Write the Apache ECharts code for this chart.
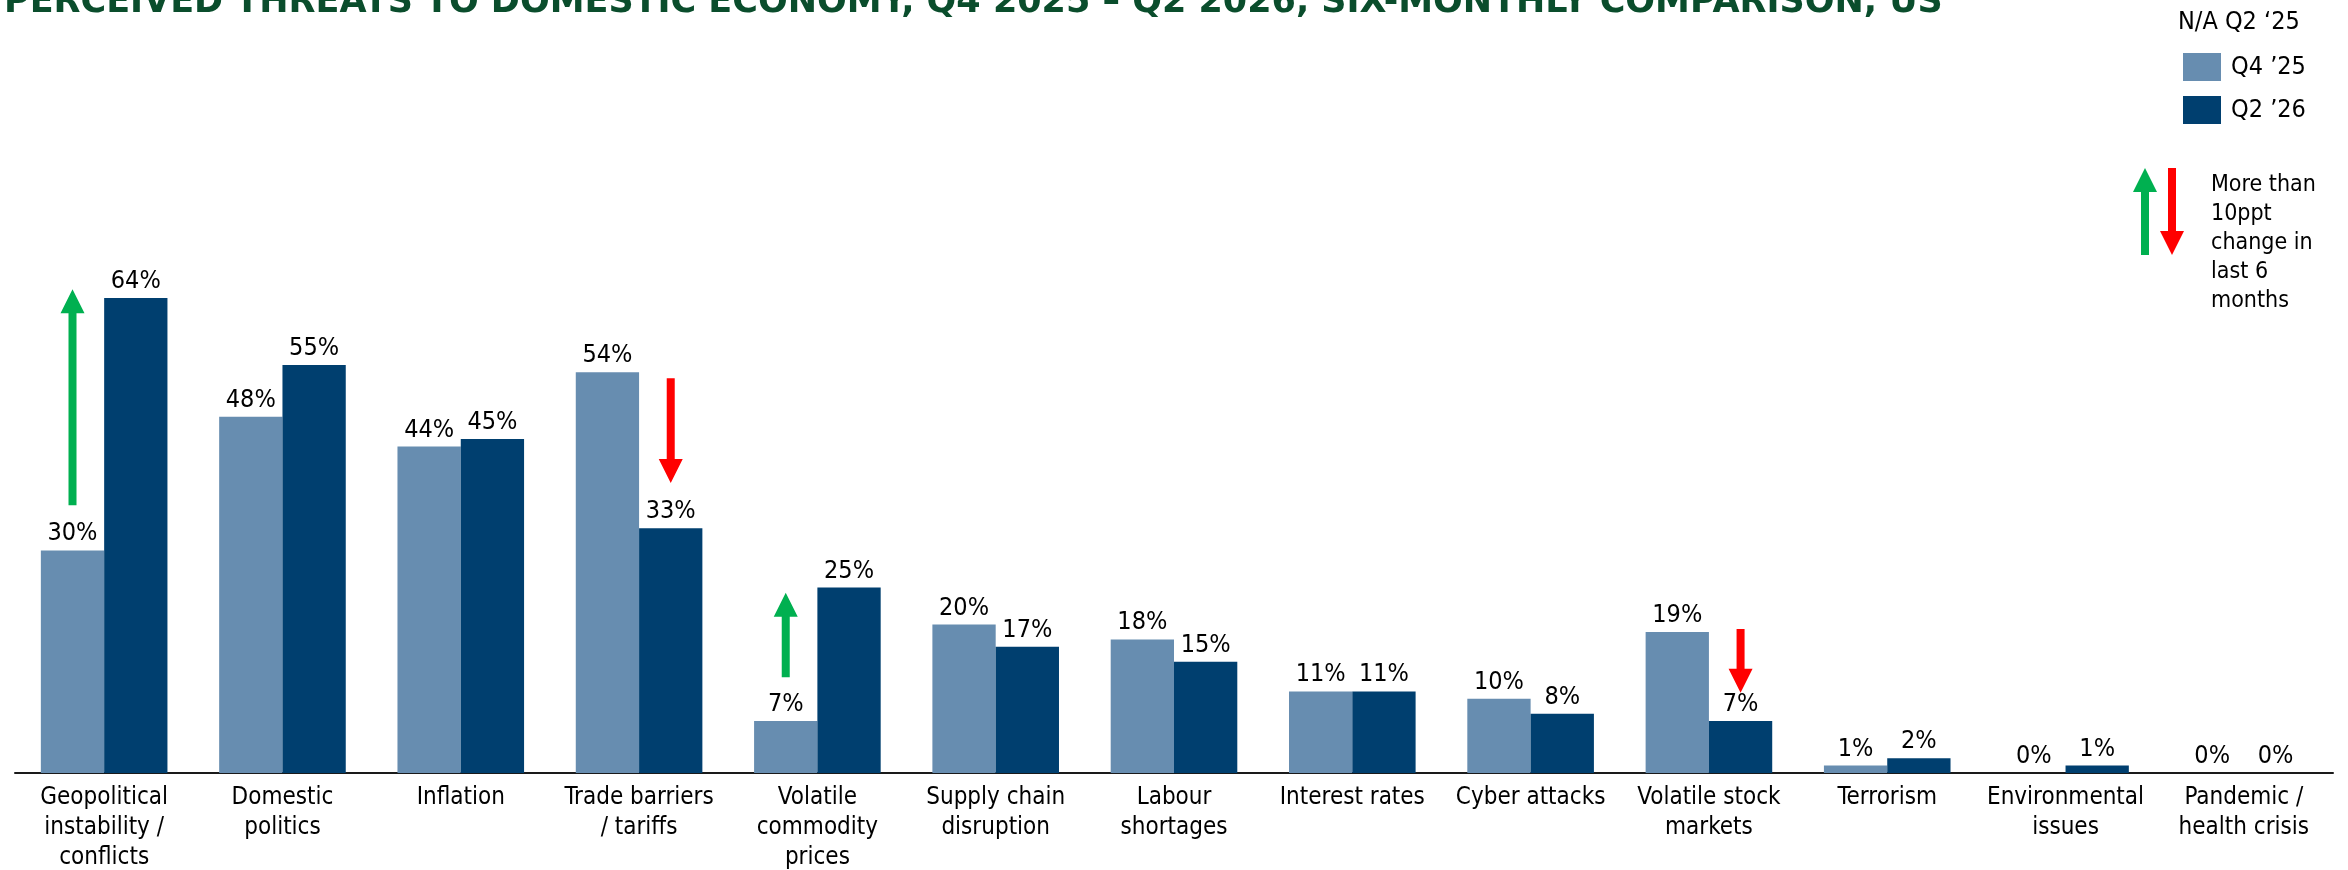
<!DOCTYPE html>
<html>
<head>
<meta charset="utf-8">
<script src="https://cdn.jsdelivr.net/npm/echarts@6/dist/echarts.min.js"></script>
<style>
html,body{margin:0;padding:0;background:#fff;}
#main{width:2348px;height:870px;}
</style>
</head>
<body>
<div id="main"></div>
<script>
const FONT = '"DejaVu Sans Condensed", "Noto Sans", sans-serif';
const TITLE_FONT = '"DejaVu Sans", "Noto Sans", sans-serif';
const titleText = 'PERCEIVED THREATS TO DOMESTIC ECONOMY, Q4 2025 \u2013 Q2 2026, SIX-MONTHLY COMPARISON, US';
const categories = [
  'Geopolitical\ninstability /\nconflicts', 'Domestic\npolitics', 'Inflation', 'Trade barriers\n/ tariffs',
  'Volatile\ncommodity\nprices', 'Supply chain\ndisruption', 'Labour\nshortages', 'Interest rates',
  'Cyber attacks', 'Volatile stock\nmarkets', 'Terrorism', 'Environmental\nissues', 'Pandemic /\nhealth crisis'
];
const seriesNames = ['Q4 \u201925', 'Q2 \u201926'];
const q4_25 = [30, 48, 44, 54, 7, 20, 18, 11, 10, 19, 1, 0, 0];
const q2_26 = [64, 55, 45, 33, 25, 17, 15, 11, 8, 7, 2, 1, 0];
// change arrows: category index, bar (0 = Q4 '25, 1 = Q2 '26), direction, top value, bottom value
const arrowCat = [0, 3, 4, 9];
const arrowBar = [0, 1, 0, 1];
const arrowDir = ['up', 'down', 'up', 'down'];
const arrowTop = [65.2, 53.2, 24.3, 19.4];
const arrowBottom = [36.1, 39.1, 12.9, 10.8];

const colors = ['#678db0', '#003f6f'];
const GREEN = '#00b050', RED = '#ff0000';
const GAP = 0.29;

const arrowData = arrowCat.map((c, i) => [c, arrowTop[i], arrowBottom[i], arrowBar[i], arrowDir[i] === 'up' ? 1 : -1]);

function arrowPoints(cx, yTop, yBot, dir) {
  const sw = 4, hw = 12, hh = 24;
  if (dir > 0) {
    return [[cx, yTop], [cx + hw, yTop + hh], [cx + sw, yTop + hh], [cx + sw, yBot], [cx - sw, yBot], [cx - sw, yTop + hh], [cx - hw, yTop + hh]];
  }
  return [[cx, yBot], [cx + hw, yBot - hh], [cx + sw, yBot - hh], [cx + sw, yTop], [cx - sw, yTop], [cx - sw, yBot - hh], [cx - hw, yBot - hh]];
}

const chart = echarts.init(document.getElementById('main'), null, {renderer: 'canvas'});
const labelOpt = {show: true, position: 'top', distance: 4, color: '#000', fontSize: 25, fontFamily: FONT, formatter: p => p.value + '%'};

chart.setOption({
  animation: false,
  backgroundColor: '#fff',
  textStyle: {fontFamily: FONT},
  grid: {left: 15, right: 15, top: 31, bottom: 97, containLabel: false, outerBoundsMode: 'none'},
  legend: {
    data: seriesNames, orient: 'vertical', left: 2183, top: 53, padding: 0,
    itemWidth: 38, itemHeight: 28, itemGap: 15, icon: 'rect',
    textStyle: {fontSize: 25, color: '#000', fontFamily: FONT, padding: [0, 0, 0, 5]},
    selectedMode: false
  },
  xAxis: {
    type: 'category', data: categories,
    axisLine: {lineStyle: {color: '#1a1a1a', width: 2}},
    axisTick: {show: false},
    axisLabel: {interval: 0, color: '#000', fontSize: 24, lineHeight: 30, margin: 10, fontFamily: FONT}
  },
  yAxis: {type: 'value', min: 0, max: 100, show: false, splitLine: {show: false}},
  series: [
    {name: seriesNames[0], type: 'bar', data: q4_25, itemStyle: {color: colors[0]}, barGap: '0%', barCategoryGap: (GAP * 100) + '%', label: labelOpt},
    {name: seriesNames[1], type: 'bar', data: q2_26, itemStyle: {color: colors[1]}, barGap: '0%', barCategoryGap: (GAP * 100) + '%', label: labelOpt},
    {
      type: 'custom', data: arrowData, encode: {x: 0, y: [1, 2]}, silent: true, z: 5,
      renderItem: function (params, api) {
        const cat = api.value(0), vTop = api.value(1), vBot = api.value(2), bar = api.value(3), dir = api.value(4);
        const band = api.size([1, 0])[0];
        const off = band * (1 - GAP) / 4;
        const cx = api.coord([cat, 0])[0] + (bar === 0 ? -off : off);
        const yTop = api.coord([cat, vTop])[1], yBot = api.coord([cat, vBot])[1];
        return {type: 'polygon', shape: {points: arrowPoints(cx, yTop, yBot, dir)}, style: {fill: dir > 0 ? GREEN : RED}};
      }
    }
  ],
  graphic: [
    {type: 'text', left: 4, top: -15, style: {text: titleText, font: 'bold 35px ' + TITLE_FONT, fill: '#0a4d2c'}},
    {type: 'text', x: 2178, y: 10, style: {text: 'N/A Q2 \u201825', font: '25px ' + FONT, fill: '#000', verticalAlign: 'top'}},
    {type: 'polygon', shape: {points: arrowPoints(2145, 168, 255, 1)}, style: {fill: GREEN}},
    {type: 'polygon', shape: {points: arrowPoints(2172, 168, 255, -1)}, style: {fill: RED}},
    {type: 'text', x: 2211, y: 171, style: {text: 'More than\n10ppt\nchange in\nlast 6\nmonths', font: '23px ' + FONT, lineHeight: 29, fill: '#000', verticalAlign: 'top'}}
  ]
});
</script>
</body>
</html>
